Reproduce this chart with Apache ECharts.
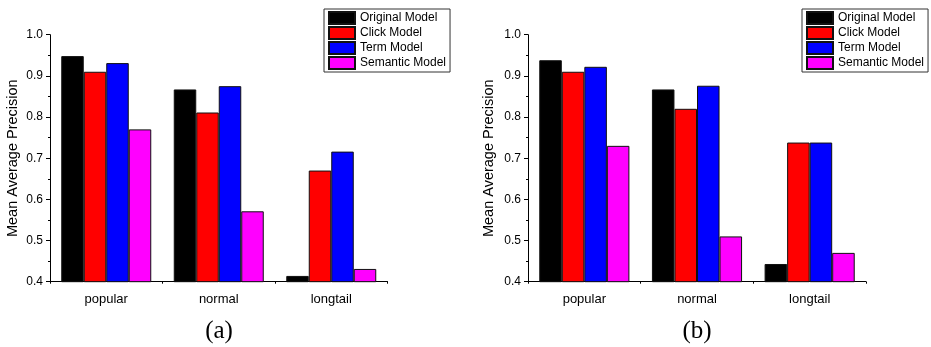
<!DOCTYPE html>
<html><head><meta charset="utf-8">
<script src="https://cdn.jsdelivr.net/npm/echarts@6/dist/echarts.min.js"></script>
<style>html,body{margin:0;padding:0;background:#fff}#c{width:931px;height:347px}</style>
</head><body><div id="c"></div>
<script>
var categories = ['popular', 'normal', 'longtail'];
var seriesNames = ['Original Model', 'Click Model', 'Term Model', 'Semantic Model'];
var colors = ['#000000', '#ff0000', '#0000ff', '#ff00ff'];
var yTicks = [0.4, 0.5, 0.6, 0.7, 0.8, 0.9, 1.0];
var captions = ['(a)', '(b)'];
// panel (a)
var aOriginal = [0.948, 0.867, 0.414];
var aClick    = [0.910, 0.811, 0.670];
var aTerm     = [0.931, 0.875, 0.716];
var aSemantic = [0.770, 0.571, 0.431];
// panel (b)
var bOriginal = [0.938, 0.867, 0.443];
var bClick    = [0.910, 0.820, 0.738];
var bTerm     = [0.922, 0.876, 0.738];
var bSemantic = [0.730, 0.510, 0.470];

var panels = [[aOriginal, aClick, aTerm, aSemantic], [bOriginal, bClick, bTerm, bSemantic]];
var FONT = "'Liberation Sans', Arial, sans-serif";
var grids = [
  {left: 50, right: 543.5, top: 34.7, bottom: 65.3},
  {left: 528, right: 65, top: 34.7, bottom: 65.3}
];
var xAxes = [], yAxes = [], series = [], legends = [], graphics = [];
var legendLefts = [324, 802];
var yNameGaps = [29.5, 31.5];
var captionX = [219, 697];
grids.forEach(function (g, i) {
  xAxes.push({
    type: 'category', gridIndex: i, data: categories,
    axisLine: {lineStyle: {color: '#000', width: 1}},
    axisTick: {alignWithLabel: true, length: 5, lineStyle: {color: '#000'}},
    axisLabel: {color: '#000', fontFamily: FONT, fontSize: 13, margin: 11},
    splitLine: {show: false}
  });
  xAxes.push({
    type: 'value', gridIndex: i, position: 'bottom', min: 0, max: 3, interval: 1,
    axisLine: {show: false},
    axisTick: {show: true, length: 2, lineStyle: {color: '#000'}},
    axisLabel: {show: false}, splitLine: {show: false}
  });
  yAxes.push({
    type: 'value', gridIndex: i, min: yTicks[0], max: yTicks[yTicks.length - 1], interval: 0.1,
    name: 'Mean Average Precision', nameLocation: 'middle', nameGap: yNameGaps[i],
    nameTextStyle: {color: '#000', fontFamily: FONT, fontSize: 14.5},
    axisLine: {show: true, lineStyle: {color: '#000', width: 1}},
    axisTick: {show: true, length: 4, lineStyle: {color: '#000'}},
    minorTick: {show: true, splitNumber: 2, length: 2, lineStyle: {color: '#000'}},
    axisLabel: {color: '#000', fontFamily: FONT, fontSize: 12, margin: 7,
      formatter: function (v) { return v.toFixed(1); }},
    splitLine: {show: false}
  });
  panels[i].forEach(function (vals, k) {
    series.push({
      type: 'bar', name: seriesNames[k], xAxisIndex: i * 2, yAxisIndex: i,
      data: vals, barGap: '0%', barCategoryGap: '20%',
      itemStyle: {color: colors[k], borderColor: '#111', borderWidth: 1},
      emphasis: {disabled: true}
    });
  });
  legends.push({
    orient: 'vertical', left: legendLefts[i], top: 9,
    data: seriesNames, icon: 'rect', itemWidth: 26, itemHeight: 12, itemGap: 1,
    padding: [2, 4, 2, 4], borderColor: '#333', borderWidth: 1,
    textStyle: {color: '#000', fontFamily: FONT, fontSize: 12, lineHeight: 13},
    selectedMode: false
  });
  graphics.push({
    type: 'text', x: captionX[i], y: 331,
    style: {text: captions[i], font: '25px "Liberation Serif", "Times New Roman", serif',
      fill: '#000', textAlign: 'center', textVerticalAlign: 'middle'}
  });
});
var chart = echarts.init(document.getElementById('c'), null, {renderer: 'canvas'});
chart.setOption({
  animation: false,
  grid: grids, xAxis: xAxes, yAxis: yAxes, series: series, legend: legends, graphic: graphics
});
</script></body></html>
